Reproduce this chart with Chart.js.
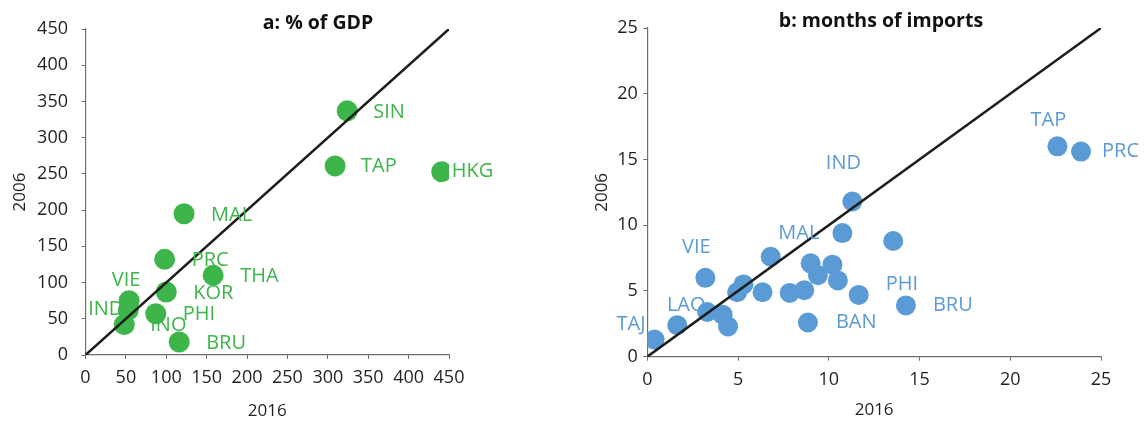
<!DOCTYPE html>
<html>
<head>
<meta charset="utf-8">
<script src="https://cdn.jsdelivr.net/npm/chart.js@4.4.0/dist/chart.umd.min.js"></script>
<style>
  html, body { margin: 0; padding: 0; background: #fff; }
  #wrap { position: relative; width: 1144px; height: 421px; }
  .panel { position: absolute; top: 0; width: 572px; height: 421px; }
</style>
</head>
<body>
<div id="wrap">
  <div class="panel" style="left:0"><canvas id="gdpChart" width="572" height="421"></canvas></div>
  <div class="panel" style="left:572px"><canvas id="impChart" width="572" height="421"></canvas></div>
</div>
<script>
// --- panel a: % of GDP ---
const gdpNames = ['SIN', 'TAP', 'HKG', 'MAL', 'PRC', 'THA', 'KOR', 'VIE', 'IND', 'INO', 'PHI', 'BRU'];
const gdp2016 = [324, 309, 441, 122, 98, 158, 100, 54, 53, 48, 87, 116];
const gdp2006 = [337, 261, 253, 195, 132, 110, 87, 75, 62, 42, 57, 18];
const gdpTicks = [0, 50, 100, 150, 200, 250, 300, 350, 400, 450];

// --- panel b: months of imports ---
const impNames = ['TAJ', 'LAO', '', 'VIE', '', '', '', '', '', '', '', '', 'BAN',
                  '', '', '', '', 'MAL', 'IND', 'PHI', '', 'BRU', 'TAP', 'PRC'];
const imp2016 = [0.4, 1.65, 3.3, 3.2, 4.15, 4.45, 4.95, 5.3, 6.35, 6.8, 7.85, 8.65, 8.85,
                 9.0, 9.4, 10.2, 10.5, 10.75, 11.3, 11.65, 13.55, 14.25, 22.6, 23.9];
const imp2006 = [1.3, 2.4, 3.4, 6.0, 3.2, 2.3, 4.9, 5.5, 4.9, 7.6, 4.85, 5.05, 2.6,
                 7.1, 6.2, 7.0, 5.8, 9.4, 11.8, 4.7, 8.8, 3.9, 16.0, 15.6];
const impTicks = [0, 5, 10, 15, 20, 25];

const GREEN = '#3db54a';
const BLUE = '#5b9bd5';
const FONT = "'Open Sans', sans-serif";

// etiquetas de paises
const pointLabels = {
  id: 'pointLabels',
  afterDatasetsDraw(chart, args, opts) {
    const ctx = chart.ctx;
    const meta = chart.getDatasetMeta(1);
    ctx.save();
    ctx.font = '20px ' + FONT;
    ctx.fillStyle = opts.color;
    ctx.textBaseline = 'middle';
    opts.names.forEach((name, i) => {
      const off = opts.offsets[name];
      if (!name || !off) return;
      const pt = meta.data[i];
      ctx.textAlign = off[2] || 'left';
      ctx.fillText(name, pt.x + off[0], pt.y + off[1]);
    });
    ctx.restore();
  }
};

const panelTitle = {
  id: 'panelTitle',
  afterDraw(chart, args, opts) {
    const ctx = chart.ctx;
    ctx.save();
    ctx.font = 'bold 19.5px ' + FONT;
    ctx.fillStyle = '#111';
    ctx.textAlign = 'center';
    ctx.textBaseline = 'alphabetic';
    ctx.fillText(opts.text, opts.x, opts.y);
    ctx.restore();
  }
};

function buildScale(max, step, ticks, fitSize, isY, opt) {
  return {
    type: 'linear',
    min: 0,
    max: max,
    afterBuildTicks: (s) => { s.ticks = ticks.map(v => ({ value: v })); },
    afterFit: (s) => { if (isY) s.width = fitSize; else s.height = fitSize; },
    border: { display: true, color: '#6d6e71', width: 1.2 },
    grid: { drawOnChartArea: false, drawTicks: true, tickLength: 4, color: '#6d6e71' },
    ticks: {
      stepSize: step,
      padding: opt.tickPad,
      color: '#231f20',
      font: { family: FONT, size: 18 },
      maxRotation: 0
    },
    title: {
      display: true,
      text: isY ? '2006' : '2016',
      color: '#231f20',
      font: { family: FONT, size: 17 },
      padding: opt.titlePad
    }
  };
}

function makeChart(id, cfg) {
  const pts = cfg.xs.map((v, i) => ({ x: v, y: cfg.ys[i] }));
  return new Chart(document.getElementById(id), {
    type: 'scatter',
    data: {
      datasets: [
        {
          type: 'line',
          data: [{ x: 0, y: 0 }, { x: cfg.max, y: cfg.max }],
          borderColor: '#1d1d1b',
          borderWidth: 2.5,
          pointRadius: 0,
          fill: false
        },
        {
          data: pts,
          backgroundColor: cfg.color,
          borderWidth: 0,
          pointRadius: cfg.radius,
          pointHoverRadius: cfg.radius
        }
      ]
    },
    options: {
      responsive: false,
      animation: false,
      layout: { padding: cfg.padding },
      plugins: {
        legend: { display: false },
        tooltip: { enabled: false },
        pointLabels: { names: cfg.names, offsets: cfg.offsets, color: cfg.color },
        panelTitle: cfg.title
      },
      scales: {
        x: buildScale(cfg.max, cfg.step, cfg.ticks, cfg.xH, false,
                      { tickPad: 8, titlePad: { top: 0, bottom: cfg.xTitlePad } }),
        y: buildScale(cfg.max, cfg.step, cfg.ticks, cfg.yW, true,
                      { tickPad: cfg.yTickPad, titlePad: { top: cfg.yTitlePad, bottom: 0 } })
      }
    },
    plugins: [pointLabels, panelTitle]
  });
}

makeChart('gdpChart', {
  xs: gdp2016, ys: gdp2006, names: gdpNames,
  max: 450, step: 50, ticks: gdpTicks,
  color: GREEN, radius: 10.5,
  padding: { left: 0, right: 123, top: 29, bottom: 0 },
  yW: 85.5, xH: 66, yTickPad: 13.5, yTitlePad: 9.5, xTitlePad: 0,
  title: { text: 'a: % of GDP', x: 318, y: 29 },
  offsets: {
    SIN: [26, 1], TAP: [26, 0], HKG: [10, 0], MAL: [27, 2], PRC: [27, 1],
    THA: [27, 1], KOR: [27, 1], VIE: [-3, -20, 'center'], IND: [-5, -1, 'right'],
    INO: [26, 1], PHI: [27, 1], BRU: [27, 1]
  }
});

makeChart('impChart', {
  xs: imp2016, ys: imp2006, names: impNames,
  max: 25, step: 5, ticks: impTicks,
  color: BLUE, radius: 10,
  padding: { left: 0, right: 43, top: 28, bottom: 0 },
  yW: 75.3, xH: 64.3, yTickPad: 5.5, yTitlePad: 20, xTitlePad: 1,
  title: { text: 'b: months of imports', x: 309, y: 27 },
  offsets: {
    TAJ: [-9, -15, 'right'], LAO: [9, -20, 'center'], VIE: [-9, -31, 'center'],
    BAN: [28, 0], MAL: [-23, 0, 'right'], IND: [-9, -38, 'center'],
    PHI: [27, -11], BRU: [27, 0], TAP: [-9, -26, 'center'], PRC: [21, 0]
  }
});
</script>
</body>
</html>
